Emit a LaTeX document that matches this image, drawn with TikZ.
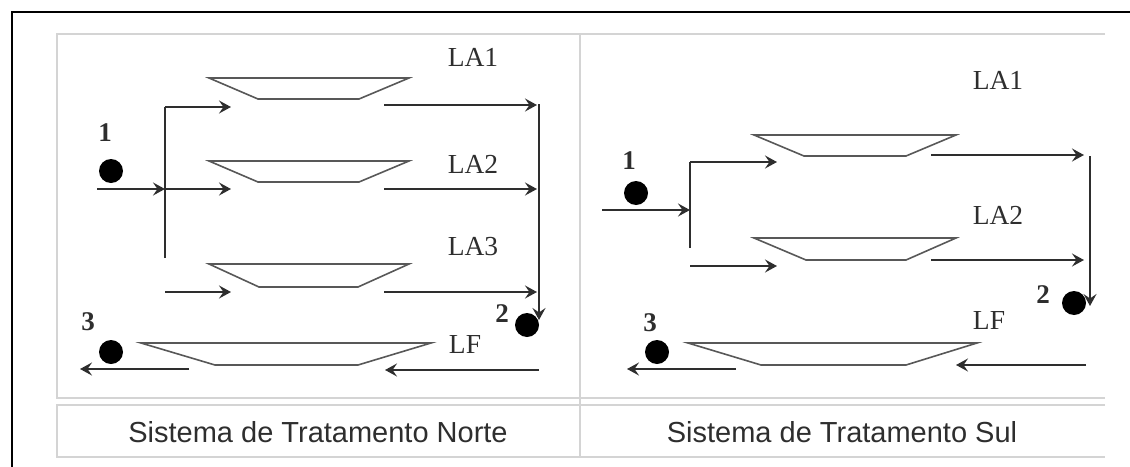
\documentclass[tikz,border=0pt]{standalone}
\usepackage{fontspec}
\setmainfont{Liberation Serif}
\newfontfamily\capfont{Liberation Sans}
\usetikzlibrary{arrows.meta}
\definecolor{ink}{HTML}{2E2E2E}
\definecolor{rulecol}{HTML}{D4D4D4}
\tikzset{
  flow/.style={draw=ink, line width=2.7pt, -{Stealth[length=12pt,width=13pt,inset=4.5pt]}},
  pipe/.style={draw=ink, line width=2.7pt},
  tank/.style={draw=ink!80, line width=1.6pt, line join=miter},
  dot/.style={circle, fill=black, inner sep=0pt, minimum size=24pt},
  num/.style={font=\fontsize{27}{30}\selectfont\bfseries, text=ink, inner sep=0pt},
  lab/.style={font=\fontsize{27.5}{30}\selectfont, text=ink, inner sep=0pt},
  captext/.style={font=\capfont\fontsize{29}{33}\selectfont, text=ink, inner sep=0pt},
  tablerule/.style={draw=rulecol, line width=1.6pt},
}
\begin{document}
\begin{tikzpicture}[x=1pt,y=-1pt]
\useasboundingbox (0,0) rectangle (1130,466);
% outer frame
\draw[line width=2.8pt, black] (12,470) -- (12,12) -- (1134,12);
% table
\draw[tablerule] (1105,34) -- (57,34) -- (57,398) -- (1105,398);
\draw[tablerule] (580,34) -- (580,457);
\draw[tablerule] (1105,405) -- (57,405) -- (57,457) -- (1105,457);
\node[captext] (capN) at (318,432) {Sistema de Tratamento Norte};
\node[captext] (capS) at (842,432) {Sistema de Tratamento Sul};

% ================= NORTE =================
\draw[tank] (209,78) -- (409,78) -- (359,99) -- (258,99) -- cycle;
\draw[tank] (209,161) -- (409,161) -- (359,182) -- (258,182) -- cycle;
\draw[tank] (209,264) -- (409,264) -- (358,287) -- (259,287) -- cycle;
\draw[tank] (141,343) -- (431,343) -- (358,365) -- (215,365) -- cycle;
\node[lab] (nLA1) at (473,57) {LA1};
\node[lab] (nLA2) at (473,164) {LA2};
\node[lab] (nLA3) at (473,247) {LA3};
\node[lab] (nLF)  at (465,344) {LF};
\node[num] (nl1) at (105,133) {1};
\node[num] (nl2) at (502,314) {2};
\node[num] (nl3) at (88,322) {3};
\node[dot] (nd1) at (111,171) {};
\node[dot] (nd3) at (111,352) {};
\node[dot] (nd2) at (527,325) {};
% coordinates
\coordinate (nIn0) at (97,189);
\coordinate (nBr2) at (165,189);
\coordinate (nBrTop) at (165,107);
\coordinate (nBrBot) at (165,258);
\coordinate (nI1) at (231,107);
\coordinate (nI2) at (231,189);
\coordinate (nS3) at (165,292);
\coordinate (nI3) at (231,292);
\coordinate (nO1s) at (384,105);
\coordinate (nO1e) at (537,105);
\coordinate (nO2s) at (384,189);
\coordinate (nO2e) at (537,189);
\coordinate (nO3s) at (384,292);
\coordinate (nO3e) at (537,292);
\coordinate (nCtop) at (539,104);
\coordinate (nCbot) at (539,320);
\coordinate (nFs) at (539,370);
\coordinate (nFe) at (385,370);
\coordinate (nXs) at (189,369);
\coordinate (nXe) at (80,369);
\draw[flow] (nIn0) -- (nBr2);
\draw[pipe] (nBrBot) -- (nBrTop);
\draw[flow] (nBrTop) -- (nI1);
\draw[flow] (nBr2) -- (nI2);
\draw[flow] (nS3) -- (nI3);
\draw[flow] (nO1s) -- (nO1e);
\draw[flow] (nO2s) -- (nO2e);
\draw[flow] (nO3s) -- (nO3e);
\draw[flow] (nCtop) -- (nCbot);
\draw[flow] (nFs) -- (nFe);
\draw[flow] (nXs) -- (nXe);

% ================= SUL =================
\draw[tank] (754,135) -- (956,135) -- (906,156) -- (804,156) -- cycle;
\draw[tank] (754,238) -- (956,238) -- (906,260) -- (806,260) -- cycle;
\draw[tank] (688,343) -- (977,343) -- (906,365) -- (761,365) -- cycle;
\node[lab] (sLA1) at (998,80) {LA1};
\node[lab] (sLA2) at (998,215) {LA2};
\node[lab] (sLF)  at (989,320) {LF};
\node[num] (sl1) at (629,161) {1};
\node[num] (sl2) at (1043,295) {2};
\node[num] (sl3) at (650,323) {3};
\node[dot] (sd1) at (636,193) {};
\node[dot] (sd2) at (1074,303) {};
\node[dot] (sd3) at (657,352) {};
\coordinate (sIn0) at (602,210);
\coordinate (sBr) at (690,210);
\coordinate (sBrTop) at (690,162);
\coordinate (sBrBot) at (690,248);
\coordinate (sI1) at (777,162);
\coordinate (sS2) at (690,266);
\coordinate (sI2) at (777,266);
\coordinate (sO1s) at (931,155);
\coordinate (sO1e) at (1084,155);
\coordinate (sO2s) at (931,260);
\coordinate (sO2e) at (1084,260);
\coordinate (sCtop) at (1090,156);
\coordinate (sCbot) at (1090,306);
\coordinate (sFs) at (1086,365);
\coordinate (sFe) at (956,365);
\coordinate (sXs) at (736,369);
\coordinate (sXe) at (627,369);
\draw[flow] (sIn0) -- (sBr);
\draw[pipe] (sBrBot) -- (sBrTop);
\draw[flow] (sBrTop) -- (sI1);
\draw[flow] (sS2) -- (sI2);
\draw[flow] (sO1s) -- (sO1e);
\draw[flow] (sO2s) -- (sO2e);
\draw[flow, line width=2pt] (sCtop) -- (sCbot);
\draw[flow] (sFs) -- (sFe);
\draw[flow] (sXs) -- (sXe);
\end{tikzpicture}
\end{document}
